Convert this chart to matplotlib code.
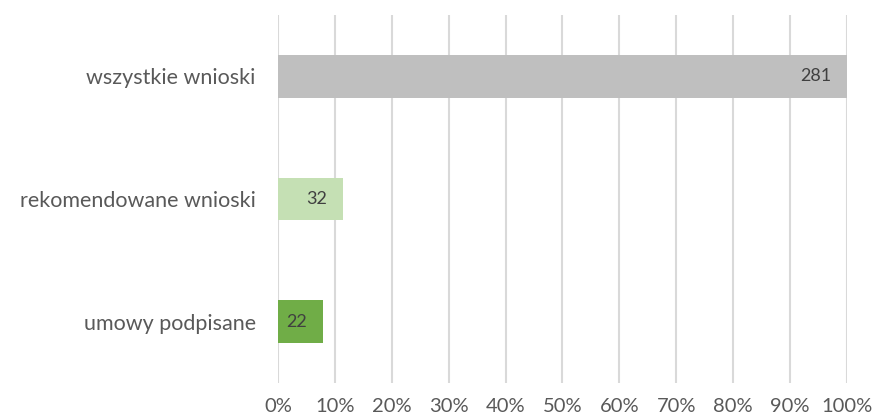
import matplotlib.pyplot as plt
from matplotlib.ticker import PercentFormatter
from matplotlib.transforms import offset_copy

categories = ["wszystkie wnioski", "rekomendowane wnioski", "umowy podpisane"]
counts = [281, 32, 22]
colors = ["#BFBFBF", "#C5E0B4", "#70AD47"]

shares = [c / counts[0] for c in counts]  # bars are relative to all applications

plt.rcParams["font.family"] = ["Lato", "DejaVu Sans"]

fig = plt.figure(figsize=(8.72, 4.18), dpi=100)
ax = fig.add_axes([0.3188, 0.0837, 0.6525, 0.8804])

ypos = list(range(len(categories)))
bars = ax.barh(ypos, shares, height=0.35, color=colors, zorder=3)

# labels sit just inside the bar end
lbl_tr = offset_copy(ax.transData, fig=fig, x=-11, y=0, units="points")
for b, c in zip(bars, counts):
    ax.text(b.get_width(), b.get_y() + b.get_height() / 2, str(c),
            transform=lbl_tr, ha="right", va="center",
            fontsize=13, color="#404040", zorder=4)

ax.set_xlim(0, 1)
ax.set_ylim(len(categories) - 0.5, -0.5)
ax.set_yticks(ypos)
ax.set_yticklabels(categories, fontsize=15.5, color="#595959")
ax.set_xticks([i / 10 for i in range(11)])
ax.xaxis.set_major_formatter(PercentFormatter(1.0, decimals=0))
ax.tick_params(axis="x", length=0, pad=11, labelsize=14.5, labelcolor="#595959")
ax.tick_params(axis="y", length=0, pad=16)

ax.grid(axis="x", color="#D9D9D9", linewidth=1.5, zorder=0)
for s in ax.spines.values():
    s.set_visible(False)

fig.savefig("out.png", dpi=100)
